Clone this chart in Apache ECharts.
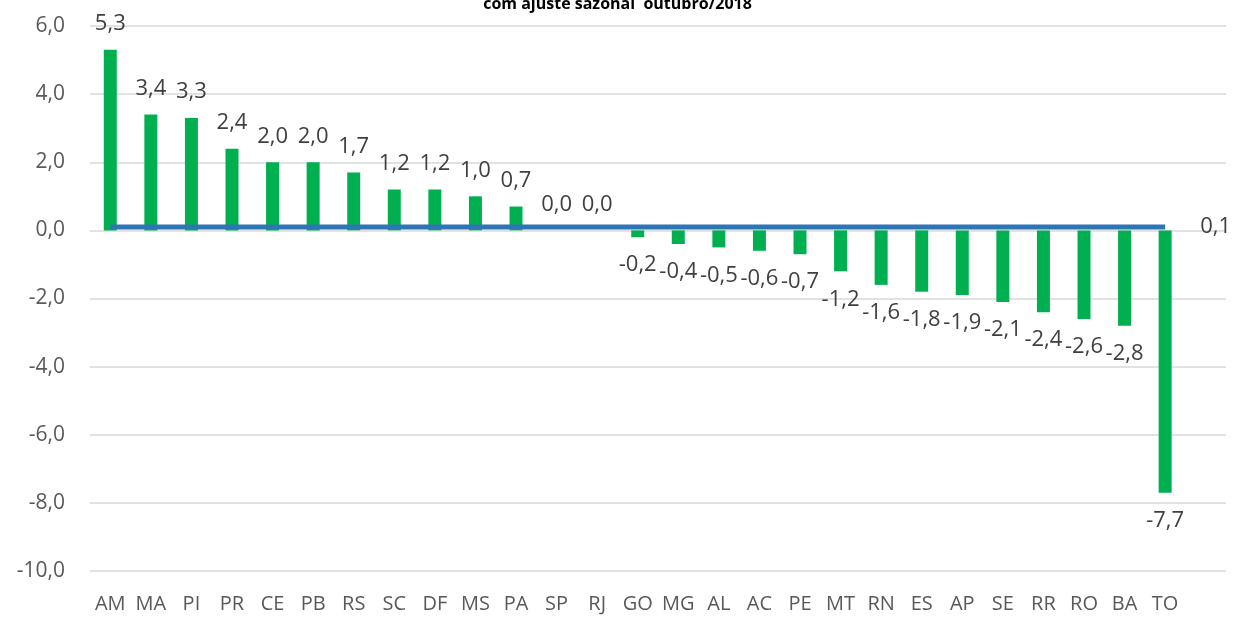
<!DOCTYPE html>
<html>
<head>
<meta charset="utf-8">
<script src="https://cdn.jsdelivr.net/npm/echarts@6/dist/echarts.min.js"></script>
<style>
html,body{margin:0;padding:0;background:#fff;}
#chart{width:1235px;height:617px;}
</style>
</head>
<body>
<div id="chart"></div>
<script>
//dados por UF
var ufs=['AM','MA','PI','PR','CE','PB','RS','SC','DF','MS','PA','SP','RJ','GO','MG','AL','AC','PE','MT','RN','ES','AP','SE','RR','RO','BA','TO',''];
var variacao=[5.3,3.4,3.3,2.4,2.0,2.0,1.7,1.2,1.2,1.0,0.7,0.0,0.0,-0.2,-0.4,-0.5,-0.6,-0.7,-1.2,-1.6,-1.8,-1.9,-2.1,-2.4,-2.6,-2.8,-7.7,null];
//media Brasil
var brasil=[0.1,0.1,0.1,0.1,0.1,0.1,0.1,0.1,0.1,0.1,0.1,0.1,0.1,0.1,0.1,0.1,0.1,0.1,0.1,0.1,0.1,0.1,0.1,0.1,0.1,0.1,0.1];
var yTicks={min:-10,max:6,step:2};

var fonte='"Open Sans", sans-serif';
function virgula(v){
    return v.toFixed(1).replace('.',',');
}

//rotulos: acima para positivos, abaixo para negativos
var barData=[];
for(var i=0;i<variacao.length;i++){
    var v=variacao[i];
    if(v===null){barData.push(null);continue;}
    barData.push({
        value:v,
        label:v<0?{position:'bottom',distance:17}:{position:'top',distance:15}
    });
}

var myChart=echarts.init(document.getElementById('chart'));
var option={
    backgroundColor:'#fff',
    animation:false,
    title:{
        text:'com ajuste sazonal  outubro/2018',
        left:'center',
        top:-9,
        textStyle:{fontFamily:fonte,fontSize:16,fontWeight:'bold',color:'#000'}
    },
    grid:{left:90,right:9,top:26,bottom:46},
    xAxis:{
        type:'category',
        data:ufs,
        axisLine:{show:false},
        axisTick:{show:false},
        axisLabel:{interval:0,margin:23,fontFamily:fonte,fontSize:20,color:'#595959'}
    },
    yAxis:{
        type:'value',
        min:yTicks.min,
        max:yTicks.max,
        interval:yTicks.step,
        axisLine:{show:false},
        axisTick:{show:false},
        axisLabel:{margin:25,fontFamily:fonte,fontSize:21,color:'#595959',formatter:function(v){return virgula(v);}},
        splitLine:{lineStyle:{color:'#d9d9d9',width:1.5}}
    },
    series:[
        {
            type:'bar',
            data:barData,
            barWidth:13,
            itemStyle:{color:'#00B050'},
            label:{
                show:true,
                fontFamily:fonte,
                fontSize:22,
                color:'#404040',
                formatter:function(p){return virgula(p.value);}
            },
            z:2
        },
        {
            type:'line',
            data:brasil,
            symbol:'none',
            lineStyle:{color:'#2E75B6',width:5},
            endLabel:{
                show:true,
                distance:35,
                fontFamily:fonte,
                fontSize:22,
                color:'#404040',
                formatter:function(p){return virgula(p.value);}
            },
            z:3
        }
    ]
};
myChart.setOption(option);
</script>
</body>
</html>
